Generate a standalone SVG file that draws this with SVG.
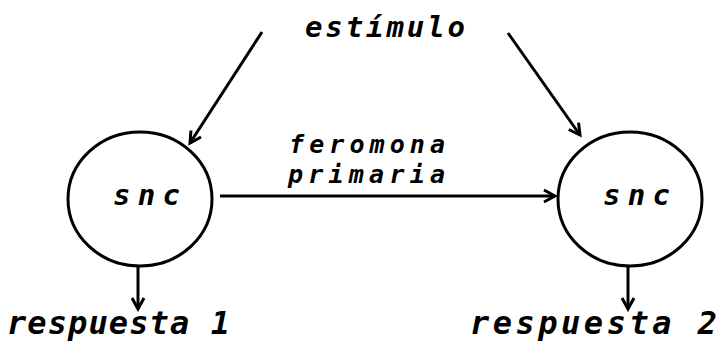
<svg xmlns="http://www.w3.org/2000/svg" width="719" height="343" viewBox="0 0 719 343">
<style>
  .t { font-family: "DejaVu Sans Mono", "Liberation Mono", monospace; font-style: italic; font-weight: bold; fill: #000; }
  .node ellipse { fill: none; stroke: #000; stroke-width: 3; }
  .edge { fill: none; stroke: #000; stroke-width: 3; marker-end: url(#v); }
</style>
<defs>
  <marker id="v" markerWidth="16" markerHeight="16" refX="13" refY="8" orient="auto" markerUnits="userSpaceOnUse">
    <path d="M2,2 L13,8 L2,14" fill="none" stroke="#000" stroke-width="3" stroke-linejoin="miter"/>
  </marker>
</defs>
<rect width="719" height="343" fill="#fff"/>
<g id="estimulo">
  <text class="t" x="305" y="37" font-size="29" textLength="160" lengthAdjust="spacing">estímulo</text>
</g>
<g id="snc1" class="node">
  <ellipse cx="140" cy="199" rx="72" ry="67"/>
  <text class="t" x="113" y="205" font-size="29" textLength="67" lengthAdjust="spacing">snc</text>
</g>
<g id="snc2" class="node">
  <ellipse cx="630" cy="199" rx="72" ry="67"/>
  <text class="t" x="603" y="205" font-size="29" textLength="67" lengthAdjust="spacing">snc</text>
</g>
<g id="respuesta1">
  <text class="t" x="7" y="334" font-size="32" textLength="223" lengthAdjust="spacing">respuesta 1</text>
</g>
<g id="respuesta2">
  <text class="t" x="470" y="334" font-size="32" textLength="247" lengthAdjust="spacing">respuesta 2</text>
</g>
<g id="label-feromona">
  <text class="t" x="289" y="153" font-size="25" textLength="156" lengthAdjust="spacing">feromona</text>
  <text class="t" x="288" y="183" font-size="25" textLength="157" lengthAdjust="spacing">primaria</text>
</g>
<g id="connectors">
  <line class="edge" x1="262" y1="32" x2="190" y2="143"/>
  <line class="edge" x1="508" y1="33" x2="580" y2="135"/>
  <line class="edge" x1="220" y1="196" x2="555" y2="196"/>
  <line class="edge" x1="138" y1="267" x2="138" y2="309"/>
  <line class="edge" x1="628" y1="266" x2="628" y2="309"/>
</g>
</svg>
